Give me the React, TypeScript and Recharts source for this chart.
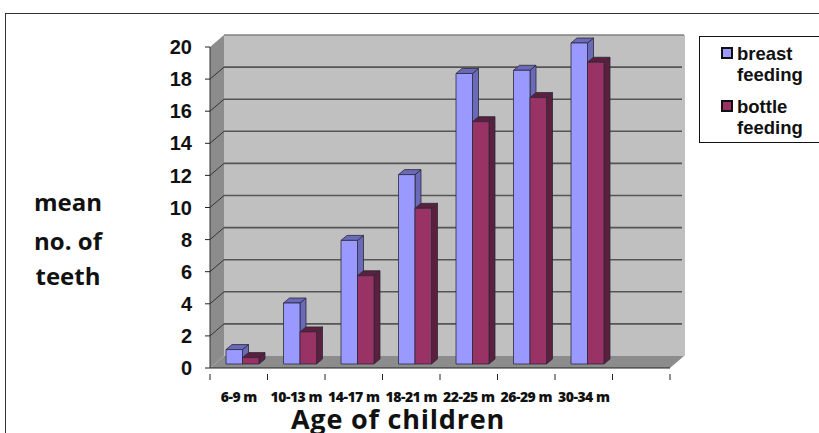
import { Bar, BarChart, CartesianGrid, Legend, XAxis, YAxis } from "recharts";

const ageGroups = ["6-9 m", "10-13 m", "14-17 m", "18-21 m", "22-25 m", "26-29 m", "30-34 m", ""];
const breastFeeding = [0.9, 3.8, 7.7, 11.8, 18.1, 18.3, 20.0, null];
const bottleFeeding = [0.4, 2.0, 5.5, 9.7, 15.1, 16.6, 18.8, null];
const yTicks = [0, 2, 4, 6, 8, 10, 12, 14, 16, 18, 20];
const yLabelLines = ["mean", "no. of", "teeth"];

const data = ageGroups.map((age, i) => ({
  age,
  breast: breastFeeding[i],
  bottle: bottleFeeding[i],
}));

const WALL_DX = 14;
const WALL_DY = 12;
const BAR_DX = 4;
const BAR_DY = 4;
const SIDE_DX = 6;
const SIDE_DY = 5;

// side wall, floor and back wall, drawn once from the first grid line
function WallsLine(props: any) {
  const { x, y, width, height, index } = props;
  if (index !== 0) return <g />;
  const right = x + width;
  const bottom = y + height;
  return (
    <g>
      <rect x={x + WALL_DX} y={y - WALL_DY} width={width + 1} height={height} fill="#c0c0c0" />
      <line x1={x + WALL_DX} y1={y - WALL_DY} x2={right + WALL_DX} y2={y - WALL_DY} stroke="#808080" strokeWidth={1.5} />
      <polygon
        points={`${x},${y} ${x + WALL_DX},${y - WALL_DY} ${x + WALL_DX},${bottom - WALL_DY} ${x},${bottom}`}
        fill="#8c8c8c"
      />
      <polygon
        points={`${x},${bottom} ${x + WALL_DX},${bottom - WALL_DY} ${right + WALL_DX},${bottom - WALL_DY} ${right},${bottom}`}
        fill="#8c8c8c"
      />
    </g>
  );
}

function WallGridLine(props: any) {
  const { x1, x2, y1, y2, y, height } = props;
  if (y1 >= y + height - 2 || y1 <= y + 2) return <g />;
  return (
    <g>
      <line x1={x1} y1={y1} x2={x1 + WALL_DX} y2={y1 - WALL_DY} stroke="#333" strokeWidth={1} />
      <line x1={x1 + WALL_DX} y1={y1 - WALL_DY} x2={x2 + WALL_DX - 2} y2={y2 - WALL_DY} stroke="#555" strokeWidth={1.6} />
    </g>
  );
}

function Box3D(props: any) {
  const { x, y, width, height, fill, sideFill } = props;
  if (!height) return <g />;
  const l = x + BAR_DX;
  const t = y - BAR_DY;
  const r = l + width;
  const b = t + height;
  return (
    <g stroke="#2a2a3a" strokeWidth={0.8} strokeLinejoin="round">
      <polygon points={`${r},${t} ${r + SIDE_DX},${t - SIDE_DY} ${r + SIDE_DX},${b - SIDE_DY} ${r},${b}`} fill={sideFill} />
      <polygon points={`${l},${t} ${l + SIDE_DX},${t - SIDE_DY} ${r + SIDE_DX},${t - SIDE_DY} ${r},${t}`} fill={sideFill} />
      <rect x={l} y={t} width={width} height={height} fill={fill} />
    </g>
  );
}

function AgeTick(props: any) {
  const { x, y, payload, index } = props;
  const half = 28.75;
  const last = index === ageGroups.length - 1;
  return (
    <g>
      <line x1={x - half} y1={y - 2} x2={x - half} y2={y + 4} stroke="#222" />
      {last && <line x1={x + half} y1={y - 2} x2={x + half} y2={y + 4} stroke="#222" />}
      <text
        x={x}
        y={y + 26}
        textAnchor="middle"
        fontFamily="Open Sans"
        fontWeight={800}
        fontSize={14}
        letterSpacing={-0.5}
        fill="#111"
      >
        {payload.value}
      </text>
    </g>
  );
}

function FeedingLegend() {
  const items = [
    { color: "#9999ff", lines: ["breast", "feeding"] },
    { color: "#993366", lines: ["bottle", "feeding"] },
  ];
  return (
    <div
      style={{
        width: 130,
        height: 107,
        boxSizing: "border-box",
        border: "1px solid #111",
        background: "#fff",
        padding: "7px 0 0 21px",
        fontFamily: "Liberation Sans",
        fontWeight: 700,
        fontSize: 18.5,
        lineHeight: "20.5px",
        color: "#111",
        textAlign: "left",
      }}
    >
      {items.map((item) => (
        <div key={item.color} style={{ position: "relative", paddingLeft: 16, marginBottom: 12 }}>
          <span
            style={{
              position: "absolute",
              left: 0,
              top: 3,
              width: 8,
              height: 8,
              background: item.color,
              border: "2px solid #111",
            }}
          />
          {item.lines.map((line) => (
            <div key={line}>{line}</div>
          ))}
        </div>
      ))}
    </div>
  );
}

export default function App() {
  return (
    <div style={{ position: "absolute", left: 0, top: 0, width: 819, height: 433, overflow: "hidden", background: "#fff" }}>
      <div style={{ position: "absolute", left: 5, top: 13, width: 830, height: 440, border: "1px solid #333", boxSizing: "border-box" }} />
      <BarChart
        width={819}
        height={433}
        data={data}
        margin={{ top: 47, right: 149, bottom: 35, left: 150 }}
        barSize={16.5}
        barGap={0}
        barCategoryGap={12}
        style={{ position: "absolute", left: 0, top: 0 }}
      >
        <CartesianGrid vertical={false} horizontal={WallsLine} />
        <CartesianGrid vertical={false} horizontal={WallGridLine} />
        <XAxis
          dataKey="age"
          height={30}
          interval={0}
          tick={AgeTick}
          tickLine={false}
          axisLine={{ stroke: "#222" }}
        />
        <YAxis
          width={60}
          domain={[0, 20]}
          ticks={yTicks}
          interval={0}
          tickSize={5}
          tickMargin={13}
          axisLine={{ stroke: "#333" }}
          tickLine={{ stroke: "#222" }}
          tick={{ fill: "#111", fontSize: 20, fontWeight: 700, fontFamily: "Liberation Sans" }}
        />
        <Legend
          layout="horizontal"
          align="center"
          verticalAlign="middle"
          content={<FeedingLegend />}
          wrapperStyle={{ left: 699, top: 36, width: 130, height: 107, bottom: "auto" }}
        />
        <Bar
          dataKey="breast"
          name="breast feeding"
          fill="#9999ff"
          isAnimationActive={false}
          shape={(p: any) => <Box3D {...p} sideFill="#6a6ab8" />}
        />
        <Bar
          dataKey="bottle"
          name="bottle feeding"
          fill="#993366"
          isAnimationActive={false}
          shape={(p: any) => <Box3D {...p} sideFill="#5c1f3d" />}
        />
        {yLabelLines.map((line, i) => (
          <text
            key={line}
            x={68}
            y={[211, 250, 285][i]}
            textAnchor="middle"
            fontFamily="Open Sans"
            fontWeight={700}
            fontSize={24}
            fill="#111"
          >
            {line}
          </text>
        ))}
        <text
          x={398}
          y={429}
          textAnchor="middle"
          fontFamily="Open Sans"
          fontWeight={700}
          fontSize={27}
          letterSpacing={0.8}
          fill="#111"
        >
          Age of children
        </text>
      </BarChart>
    </div>
  );
}
